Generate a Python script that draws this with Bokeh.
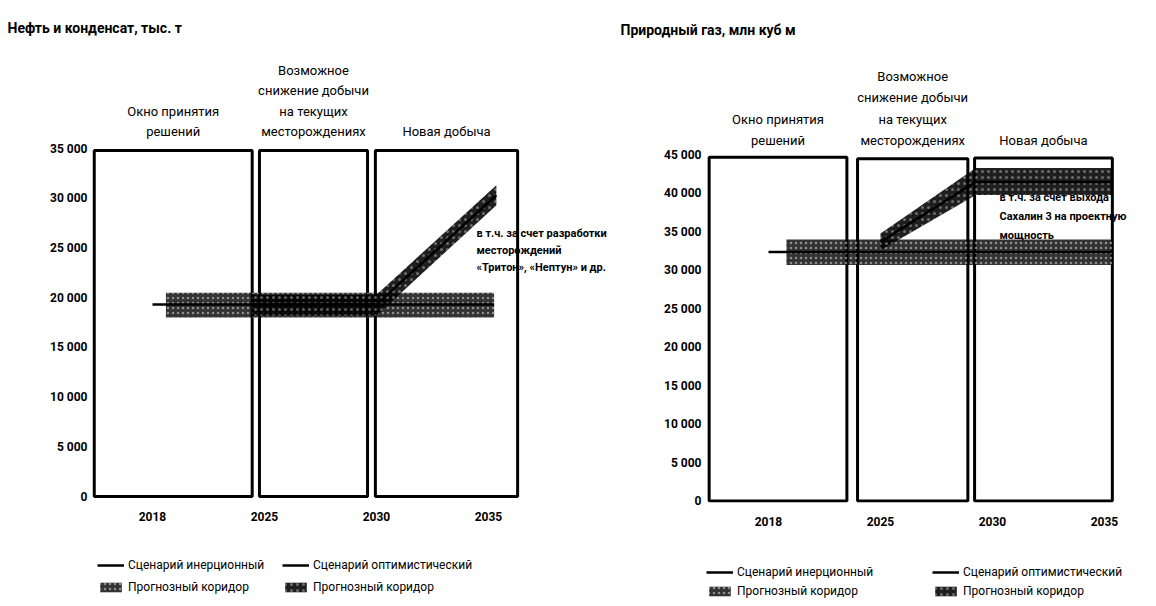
from bokeh.plotting import figure
from bokeh.layouts import row, column
from bokeh.models import Range1d, FixedTicker, Label, Legend, LegendItem
from bokeh.embed import file_html
from bokeh.resources import INLINE

FONT = "Roboto"
ORIGIN = 1  # page offset of the layout

# ---------------- data ----------------
year_labels = ["2018", "2025", "2030", "2035"]
year_positions = [0, 1, 2, 3]

oil_title = "Нефть и конденсат, тыс. т"
gas_title = "Природный газ, млн куб м"

period_headers = [
    ["Окно принятия", "решений"],
    ["Возможное", "снижение добычи", "на текущих", "месторождениях"],
    ["Новая добыча"],
]

oil_yticks = [0, 5000, 10000, 15000, 20000, 25000, 30000, 35000]
oil_ytick_labels = ["0", "5 000", "10 000", "15 000", "20 000", "25 000", "30 000", "35 000"]
gas_yticks = [0, 5000, 10000, 15000, 20000, 25000, 30000, 35000, 40000, 45000]
gas_ytick_labels = ["0", "5 000", "10 000", "15 000", "20 000", "25 000", "30 000",
                    "35 000", "40 000", "45 000"]

# period frames (x in axis positions, top in units)
oil_period_left = [-0.52, 0.955, 1.99]
oil_period_right = [0.89, 1.92, 3.26]
oil_period_top = [34800, 34800, 34800]
gas_period_left = [-0.53, 0.795, 1.84]
gas_period_right = [0.70, 1.78, 3.07]
gas_period_top = [44700, 44500, 44600]

# oil scenarios
oil_inert_x = [0.0, 3.05]
oil_inert_y = [19300, 19300]
oil_inert_band_x = [0.12, 3.05]
oil_inert_band_lo = [18000, 18000]
oil_inert_band_hi = [20500, 20500]
oil_opt_x = [0.89, 2.0, 3.07]
oil_opt_y = [19300, 19300, 30300]
oil_opt_band_lo = [18200, 18200, 29300]
oil_opt_band_hi = [20300, 20300, 31300]

# gas scenarios
gas_inert_x = [0.0, 3.07]
gas_inert_y = [32400, 32400]
gas_inert_band_x = [0.16, 3.07]
gas_inert_band_lo = [30700, 30700]
gas_inert_band_hi = [34000, 34000]
gas_opt_x = [1.0, 1.85, 3.07]
gas_opt_y = [33700, 41500, 41500]
gas_opt_band_lo = [32600, 39800, 39800]
gas_opt_band_hi = [34800, 43300, 43300]

oil_note = ["в т.ч.  за счет разработки", "месторождений", "«Тритон», «Нептун» и др."]
gas_note = ["в т.ч. за счет выхода", "Сахалин 3 на проектную", "мощность"]

legend_line_labels = ["Сценарий инерционный", "Сценарий оптимистический"]
legend_band_label = "Прогнозный коридор"

MAIN_BOTTOM = 548   # page y where the chart canvas ends and the legend strip begins
PAGE_BOTTOM = 604
FRAME_T, FRAME_B = 50, 503


def band_style(alpha, hatch_alpha, scale):
    return dict(fill_color="black", fill_alpha=alpha, hatch_pattern="dot",
                hatch_color="white", hatch_alpha=hatch_alpha, hatch_scale=scale,
                hatch_weight=1)


def draw_series(p, inert, opt):
    ix, iy, ibx, ilo, ihi = inert
    ox, oy, olo, ohi = opt
    band_i = p.varea(x=ibx, y1=ilo, y2=ihi, **band_style(0.8, 0.45, 5))
    band_o = p.varea(x=ox, y1=olo, y2=ohi, **band_style(0.88, 0.35, 6))
    line_i = p.line(ix, iy, line_color="black", line_width=2.5)
    line_o = p.line(ox, oy, line_color="black", line_width=2.5)
    return band_i, band_o, line_i, line_o


def make_chart(canvas_left, width, frame_lr, xmap, ymap, yticks, ytick_labels,
               p_left, p_right, p_top, inert, opt, title, title_x, title_standoff,
               header_bottom_px, header_step, note, note_px, note_step,
               x_standoff, legend_cfg):
    L, R = frame_lr
    T, B = FRAME_T, FRAME_B
    x_org, x_scale = xmap
    y_org, y_scale = ymap

    def px_x(px):
        return (px - x_org) / x_scale

    def px_y(py):
        return (y_org - py) / y_scale

    p = figure(width=width, height=MAIN_BOTTOM - ORIGIN,
               x_range=Range1d(px_x(L), px_x(R)), y_range=Range1d(px_y(B), px_y(T)),
               output_backend="svg", toolbar_location=None,
               min_border_left=L - canvas_left, min_border_right=canvas_left + width - R,
               min_border_top=T - ORIGIN, min_border_bottom=MAIN_BOTTOM - B)
    p.outline_line_color = None
    p.grid.visible = False

    p.title.text = title
    p.title.align = "left"
    p.title.offset = title_x - L
    p.title.standoff = title_standoff
    p.title.text_font = FONT
    p.title.text_font_style = "bold"
    p.title.text_font_size = "14px"
    p.title.text_color = "black"

    p.xaxis.ticker = FixedTicker(ticks=year_positions)
    p.xaxis.major_label_overrides = {k: v for k, v in zip(year_positions, year_labels)}
    p.yaxis.ticker = FixedTicker(ticks=yticks)
    p.yaxis.major_label_overrides = {k: v for k, v in zip(yticks, ytick_labels)}
    for ax in (p.xaxis, p.yaxis):
        ax.axis_line_color = None
        ax.major_tick_line_color = None
        ax.minor_tick_line_color = None
        ax.major_tick_out = 0
        ax.major_tick_in = 0
        ax.minor_tick_out = 0
        ax.minor_tick_in = 0
        ax.major_label_text_font = FONT
        ax.major_label_text_font_style = "bold"
        ax.major_label_text_font_size = "12px"
        ax.major_label_text_color = "black"
    p.yaxis.major_label_standoff = 4
    p.xaxis.major_label_standoff = x_standoff

    # period frames
    p.quad(left=p_left, right=p_right, bottom=[0] * len(p_left), top=p_top,
           fill_color=None, line_color="black", line_width=3)

    draw_series(p, inert, opt)

    # period headers
    for k, lines in enumerate(period_headers):
        cx = (p_left[k] + p_right[k]) / 2
        n = len(lines)
        for j, t in enumerate(lines):
            py = header_bottom_px - (n - 1 - j) * header_step
            p.add_layout(Label(x=cx, y=px_y(py), text=t, text_font=FONT,
                               text_font_size="13px", text_align="center",
                               text_baseline="middle", text_color="black"))

    # note
    for j, t in enumerate(note):
        p.add_layout(Label(x=px_x(note_px[0]), y=px_y(note_px[1] + j * note_step), text=t,
                           text_font=FONT, text_font_style="bold", text_font_size="11px",
                           text_align="left", text_baseline="middle", text_color="black"))

    # legend strip (its own small figure; the series are drawn out of its view)
    lg = figure(width=width, height=PAGE_BOTTOM - MAIN_BOTTOM,
                x_range=Range1d(100, 101), y_range=Range1d(1e6, 1e6 + 1),
                output_backend="svg", toolbar_location=None,
                x_axis_location=None, y_axis_location=None,
                min_border_left=L - canvas_left, min_border_right=canvas_left + width - R,
                min_border_top=0, min_border_bottom=0)
    lg.outline_line_color = None
    lg.grid.visible = False
    band_i, band_o, line_i, line_o = draw_series(lg, inert, opt)
    vx1, vx2, legend_top, spacing = legend_cfg
    for vx, ln, bd, lab in ((vx1, line_i, band_i, legend_line_labels[0]),
                            (vx2, line_o, band_o, legend_line_labels[1])):
        item_h = 14
        leg_h = 2 * item_h + spacing
        vy = PAGE_BOTTOM - (legend_top + leg_h)
        leg = Legend(items=[LegendItem(label=lab, renderers=[ln]),
                            LegendItem(label=legend_band_label, renderers=[bd])],
                     location=(max(vx - L, 1), vy), orientation="vertical",
                     border_line_color=None, background_fill_alpha=0,
                     padding=0, margin=0, spacing=spacing,
                     glyph_width=27, glyph_height=12, label_height=12,
                     label_standoff=4, label_text_font=FONT, label_text_font_size="12px",
                     label_text_color="black")
        lg.add_layout(leg)
    return column(p, lg, spacing=0)


left_w = 614 - ORIGIN
right_w = 1155 - 614

c1 = make_chart(ORIGIN, left_w, (92, 614), (153, 112), (497, 348 / 35000),
                oil_yticks, oil_ytick_labels,
                oil_period_left, oil_period_right, oil_period_top,
                (oil_inert_x, oil_inert_y, oil_inert_band_x, oil_inert_band_lo, oil_inert_band_hi),
                (oil_opt_x, oil_opt_y, oil_opt_band_lo, oil_opt_band_hi),
                oil_title, 8, 27, 132, 20.5,
                oil_note, (477, 234), 17, 9,
                (98, 283, 559, 8))

c2 = make_chart(614, right_w, (706, 1155), (769, 112), (501.5, 346 / 45000),
                gas_yticks, gas_ytick_labels,
                gas_period_left, gas_period_right, gas_period_top,
                (gas_inert_x, gas_inert_y, gas_inert_band_x, gas_inert_band_lo, gas_inert_band_hi),
                (gas_opt_x, gas_opt_y, gas_opt_band_lo, gas_opt_band_hi),
                gas_title, 621, 24, 141, 21.5,
                gas_note, (1000, 198), 19, 14,
                (693, 933, 566, 5))

layout = row(c1, c2, spacing=0)
open("out.html", "w").write(file_html(layout, INLINE))
